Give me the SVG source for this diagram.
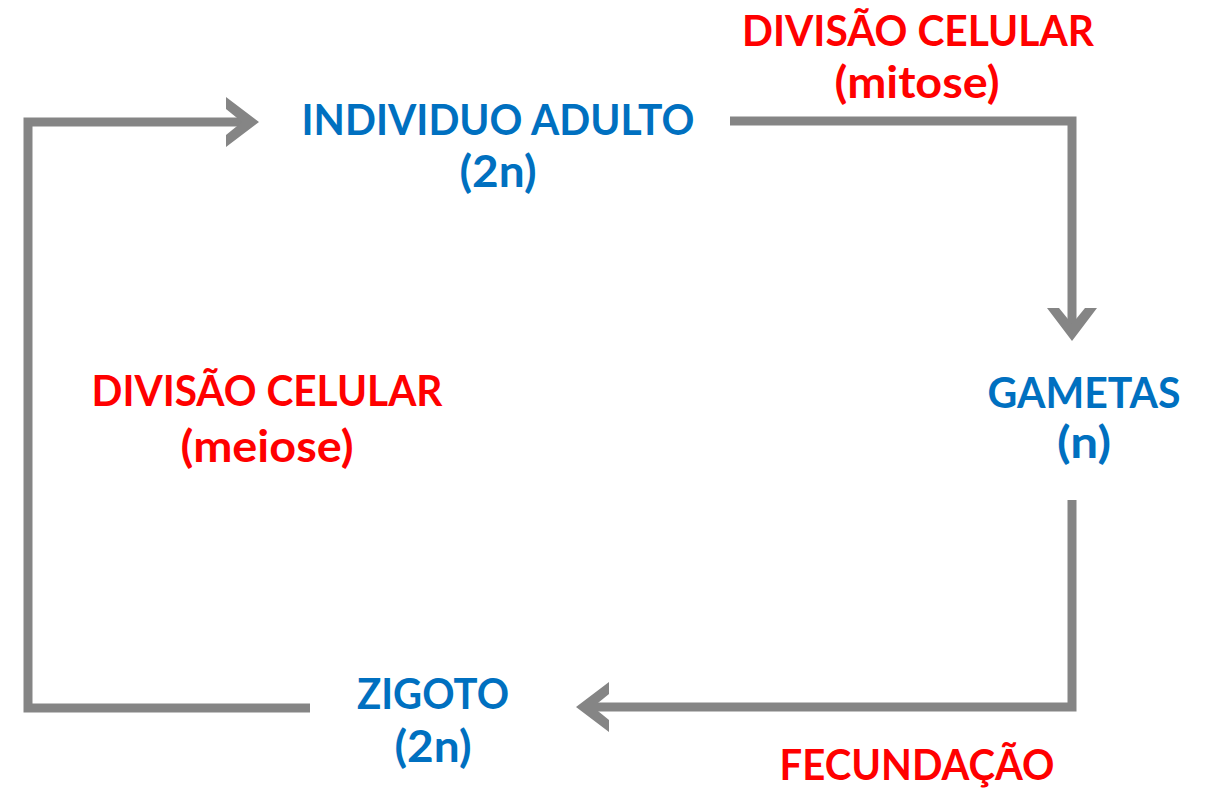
<svg xmlns="http://www.w3.org/2000/svg" width="1206" height="788" viewBox="0 0 1206 788">
<style>
.ln{fill:none;stroke:#858585;stroke-width:9;stroke-linejoin:miter}
.hd{fill:#858585}
.t{font-family:Lato,"Liberation Sans",sans-serif;font-weight:bold;font-size:42px;text-anchor:middle}
.p{font-size:44px}
.b{fill:#0070C0}
.r{fill:#FF0000}
</style>
<defs>
<path id="chev" d="M-32,-25 L1,0 L-32,25 L-32,13 L-16,0 L-32,-13 Z"/>
</defs>
<rect width="1206" height="788" fill="#ffffff"/>
<g id="connectors">
<path class="ln" d="M310,708 H28 V122 H248"/>
<use href="#chev" class="hd" transform="translate(258,122)"/>
<path class="ln" d="M730,121 H1072 V330"/>
<use href="#chev" class="hd" transform="translate(1072,340) rotate(90)"/>
<path class="ln" d="M1072,500 V707 H588"/>
<use href="#chev" class="hd" transform="translate(577,707) rotate(180)"/>
</g>
<g id="adulto">
<text class="t b" x="498" y="135" textLength="393" lengthAdjust="spacingAndGlyphs">INDIVIDUO ADULTO</text>
<text class="t p b" x="498" y="187" textLength="77" lengthAdjust="spacingAndGlyphs">(2n)</text>
</g>
<g id="mitose">
<text class="t r" x="918" y="46" textLength="352" lengthAdjust="spacingAndGlyphs">DIVISÃO CELULAR</text>
<text class="t p r" x="917" y="98" textLength="165" lengthAdjust="spacingAndGlyphs">(mitose)</text>
</g>
<g id="gametas">
<text class="t b" x="1084" y="408" textLength="193" lengthAdjust="spacingAndGlyphs">GAMETAS</text>
<text class="t p b" x="1084" y="458" textLength="54" lengthAdjust="spacingAndGlyphs">(n)</text>
</g>
<g id="meiose">
<text class="t r" x="267" y="406" textLength="351" lengthAdjust="spacingAndGlyphs">DIVISÃO CELULAR</text>
<text class="t p r" x="267" y="462" textLength="173" lengthAdjust="spacingAndGlyphs">(meiose)</text>
</g>
<g id="zigoto">
<text class="t b" x="433" y="709" textLength="152" lengthAdjust="spacingAndGlyphs">ZIGOTO</text>
<text class="t p b" x="433" y="762" textLength="77" lengthAdjust="spacingAndGlyphs">(2n)</text>
</g>
<g id="fecundacao">
<text class="t r" x="917" y="780" textLength="275" lengthAdjust="spacingAndGlyphs">FECUNDAÇÃO</text>
</g>
</svg>
